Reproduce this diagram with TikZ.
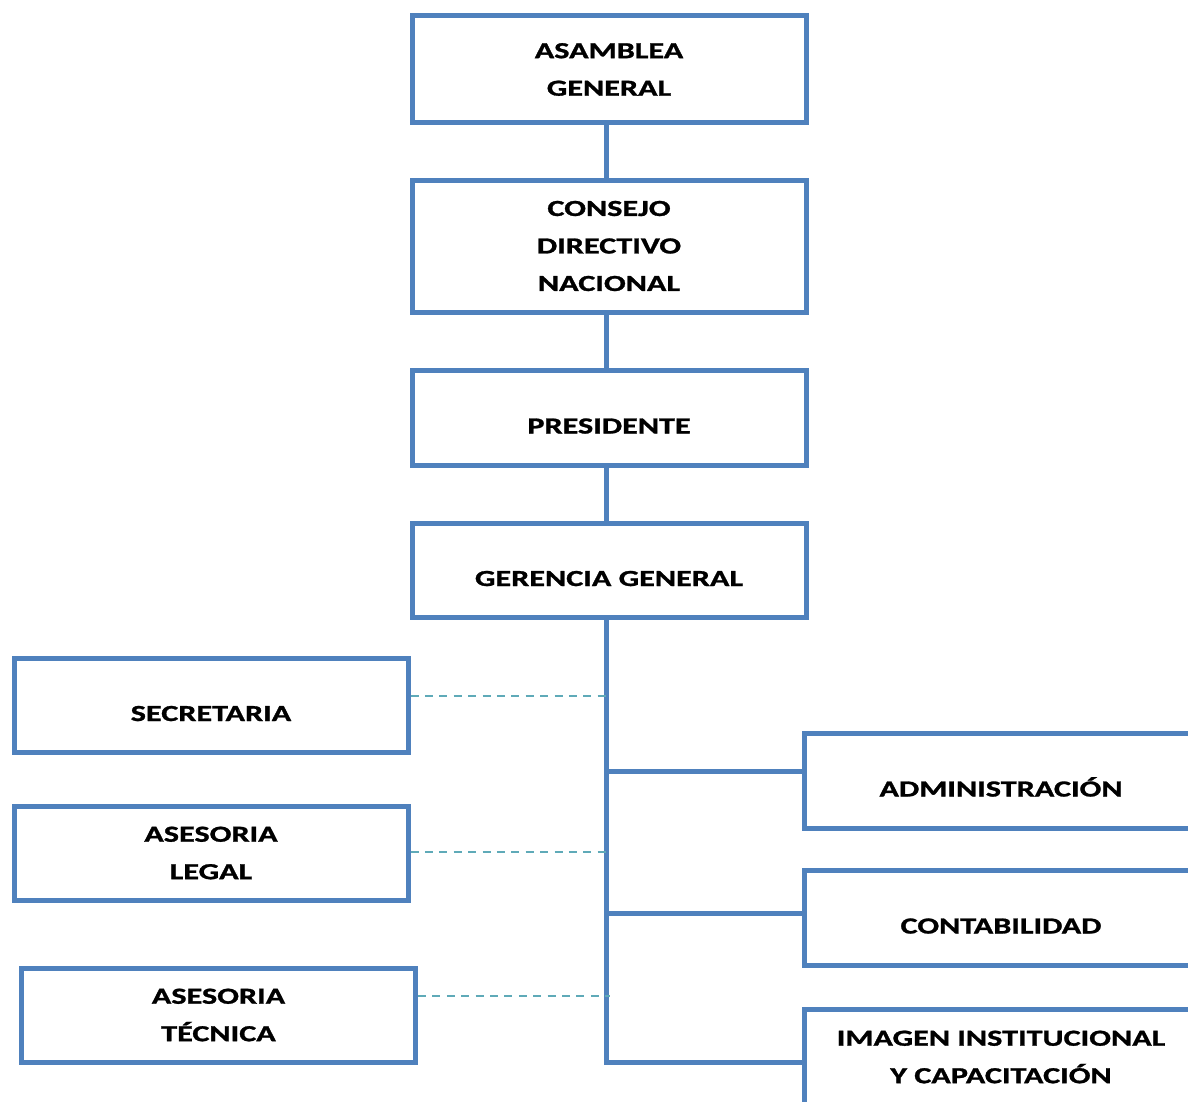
\documentclass[tikz,border=0pt]{standalone}
\usepackage{fontspec}
\setmainfont{Carlito}[FakeStretch=1.4, BoldFeatures={FakeBold=1.2}]
\definecolor{boxblue}{HTML}{4F81BD}
\definecolor{dashteal}{HTML}{5FAAB8}
\begin{document}
\begin{tikzpicture}[x=0.5pt,y=-0.5pt,
  unit/.style={draw=boxblue, line width=2.5pt, fill=white, rectangle,
    inner sep=0pt, minimum width=197pt, align=center,
    font=\fontsize{11.5}{18.75}\selectfont\bfseries},
  % single-line labels sit a little below the box centre
  oneline/.style={text height=16pt, text depth=0pt},
  link/.style={draw=boxblue, line width=2.5pt},
  advice/.style={draw=dashteal, line width=1pt, dash pattern=on 4pt off 3.2pt}]
  \useasboundingbox (0,0) rectangle (1188,1102);
  \clip (0,0) rectangle (1188,1102);
  % main chain
  \node[unit, minimum height=53.5pt] (asam) at (609,69.5) {ASAMBLEA\\GENERAL};
  \node[unit, minimum height=66pt] (cons) at (609,246) {CONSEJO\\DIRECTIVO\\NACIONAL};
  \node[unit, oneline, minimum height=47.5pt] (pres) at (609,417.5) {PRESIDENTE};
  \node[unit, oneline, minimum height=47pt] (ger) at (609,570) {GERENCIA GENERAL};
  % staff units (left)
  \node[unit, oneline, minimum height=47pt] (sec) at (211,705) {SECRETARIA};
  \node[unit, minimum height=47pt] (leg) at (211,853) {ASESORIA\\LEGAL};
  \node[unit, minimum height=47pt] (tec) at (218.5,1015) {ASESORIA\\TÉCNICA};
  % line units (right)
  \node[unit, oneline, minimum height=47.5pt] (adm) at (1001,780.5) {ADMINISTRACIÓN};
  \node[unit, oneline, minimum height=47.5pt] (cont) at (1001,917.5) {CONTABILIDAD};
  \node[unit, minimum height=47.5pt] (img) at (1001,1057) {IMAGEN INSTITUCIONAL\\Y CAPACITACIÓN};
  % trunk coordinates
  \coordinate (tEnd) at (606,1062);
  \coordinate (tAdm) at (606,771);
  \coordinate (tCont) at (606,913);
  \coordinate (dSec) at (606,696);
  \coordinate (dLeg) at (606,852);
  \coordinate (dTec) at (610,996);
  % connectors
  \draw[link] (asam.south -| 606,0) -- (cons.north -| 606,0);
  \draw[link] (cons.south -| 606,0) -- (pres.north -| 606,0);
  \draw[link] (pres.south -| 606,0) -- (ger.north -| 606,0);
  \draw[link] (ger.south -| tEnd) -- (tEnd) -- (tEnd -| img.west);
  \draw[link] (tAdm) -- (tAdm -| adm.west);
  \draw[link] (tCont) -- (tCont -| cont.west);
  \draw[advice] (dSec -| sec.east) -- (dSec);
  \draw[advice] (dLeg -| leg.east) -- (dLeg);
  \draw[advice] (dTec -| tec.east) -- (dTec);
\end{tikzpicture}
\end{document}
